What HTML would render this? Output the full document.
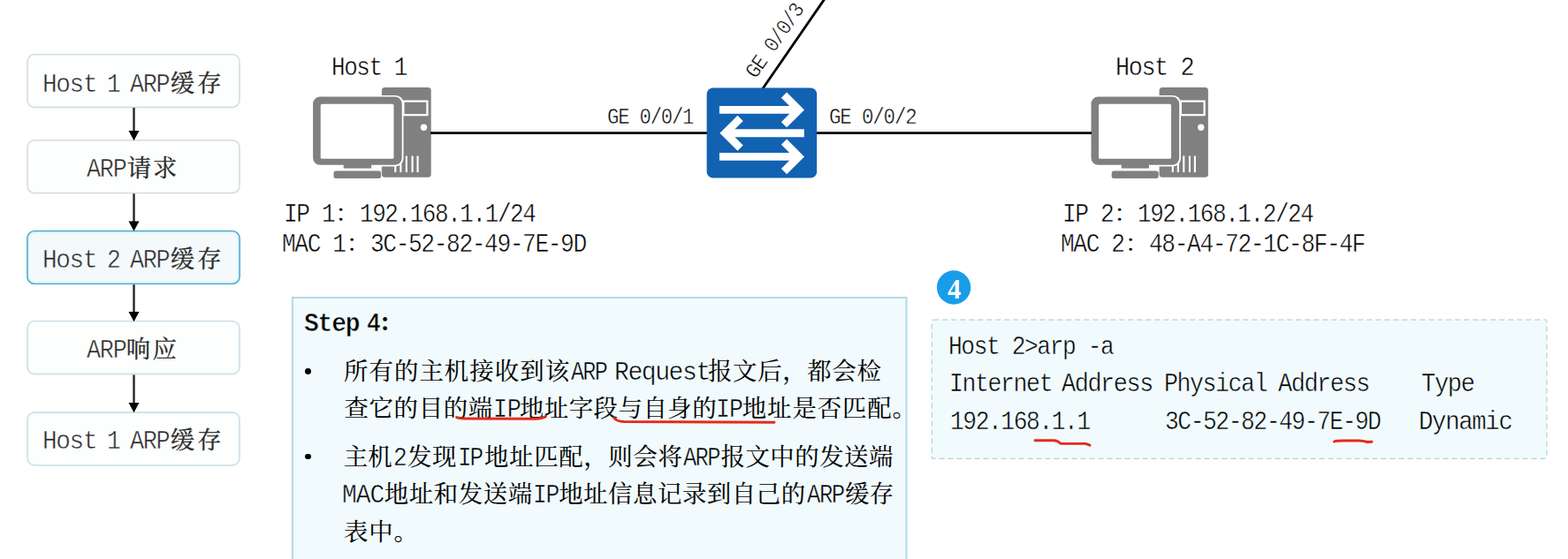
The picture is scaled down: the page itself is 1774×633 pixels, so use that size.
<!DOCTYPE html>
<html lang="zh-CN">
<head>
<meta charset="utf-8">
<title>ARP 工作过程 - Step 4</title>
<style>
html,body{margin:0;padding:0;background:#fff}
body{width:1774px;height:633px;position:relative;overflow:hidden;font-family:"Liberation Mono","Noto Serif CJK SC",monospace;color:#000}
main,section,header{display:block;margin:0;padding:0}
.t{position:absolute;white-space:nowrap;height:40px;line-height:40px;font-size:29.5px;font-weight:normal;margin:0;padding:0}
.t span{line-height:0;white-space:pre}
.l{font-family:"Liberation Mono","Noto Serif CJK SC",monospace;-webkit-text-stroke:0.5px #fff;display:inline-block;transform-origin:0 50%}
.c{font-family:"Liberation Serif","Noto Serif CJK SC",serif;font-size:27.4px;-webkit-text-stroke:0.12px currentColor}
.flow .c{-webkit-text-stroke-width:0.3px}
.b{font-weight:bold;-webkit-text-stroke-width:0.6px}
.c.b{-webkit-text-stroke:0.2px #f1fbfd}
.tint .l{-webkit-text-stroke-color:#f1fbfd}
.fb{position:absolute;left:31px;width:240px;height:59.8px;border-radius:8px;background:#fdfefe}
.fb.on{background:#f4fafc;box-shadow:0 0 2.5px 1px #a5e9f5,inset 0 0 3px 1px #c4f1f8}
.on-t .l{-webkit-text-stroke-color:#f4fafc}
.flow .t{color:#2a2a2a}
.panel{position:absolute;background:#f1fbfd}
.dot{position:absolute;width:6.8px;height:6.8px;border-radius:50%;background:#000}
.n4{width:40px;text-align:center;color:#fff;font-family:"Liberation Serif",serif;font-weight:bold;font-size:30.5px}
svg{position:absolute;left:0;top:0;overflow:hidden}
</style>
</head>
<body>
<main>
<section class="flow" aria-label="ARP 流程">
<div class="fb" style="top:61.7px"></div>
<div class="fb" style="top:158.8px"></div>
<div class="fb on" style="top:261.6px"></div>
<div class="fb" style="top:363.7px"></div>
<div class="fb" style="top:467px"></div>
<svg width="1774" height="633" viewBox="0 0 1774 633" aria-hidden="true">
<rect x="31" y="61.7" width="240" height="59.8" rx="8" fill="none" stroke="#d9e0e3" stroke-width="1.8"/>
<rect x="31" y="158.8" width="240" height="59.8" rx="8" fill="none" stroke="#d9e0e3" stroke-width="1.8"/>
<rect x="31" y="261.6" width="240" height="59.8" rx="8" fill="none" stroke="#4fa6c6" stroke-width="1.4"/>
<rect x="31" y="363.7" width="240" height="59.8" rx="8" fill="none" stroke="#d0e3ea" stroke-width="1.8"/>
<rect x="31" y="467" width="240" height="59.8" rx="8" fill="none" stroke="#d0e3ea" stroke-width="1.8"/>
<path d="M151.5 122V150.2" stroke="#1c1c1c" stroke-width="2.3" fill="none"/>
<path d="M145.5 148H157.5L151.5 159.2Z" fill="#000"/>
<path d="M151.5 219.3V252.7" stroke="#1c1c1c" stroke-width="2.3" fill="none"/>
<path d="M145.5 250.5H157.5L151.5 261.7Z" fill="#000"/>
<path d="M151.5 322.3V355.2" stroke="#1c1c1c" stroke-width="2.3" fill="none"/>
<path d="M145.5 353H157.5L151.5 364.2Z" fill="#000"/>
<path d="M151.5 424.5V458.2" stroke="#1c1c1c" stroke-width="2.3" fill="none"/>
<path d="M145.5 456H157.5L151.5 467.2Z" fill="#000"/>
</svg>
<div class="t" style="left:48px;top:76px"><span class="l" style="letter-spacing:-1.43px;transform:scaleX(0.94)">Host </span><span class="l" style="letter-spacing:-1.6px;margin-left:-8.44px;transform:scaleX(0.89)">1 </span><span class="l" style="letter-spacing:-1.45px;margin-left:-6.11px;transform:scaleX(0.91)">ARP</span><span class="c" style="letter-spacing:3.14px;margin-left:-3.07px">缓存</span></div>
<div class="t" style="left:97.5px;top:172px"><span class="l" style="letter-spacing:-1.39px;transform:scaleX(0.91)">ARP</span><span class="c" style="letter-spacing:1.75px;margin-left:-2.64px">请求</span></div>
<div class="t on-t" style="left:48px;top:275px"><span class="l" style="letter-spacing:-1.43px;transform:scaleX(0.94)">Host </span><span class="l" style="letter-spacing:-1.6px;margin-left:-8.38px;transform:scaleX(0.89)">2 </span><span class="l" style="letter-spacing:-1.45px;margin-left:-6.17px;transform:scaleX(0.91)">ARP</span><span class="c" style="letter-spacing:3.14px;margin-left:-3.07px">缓存</span></div>
<div class="t" style="left:97.5px;top:377px"><span class="l" style="letter-spacing:-1.39px;transform:scaleX(0.91)">ARP</span><span class="c" style="letter-spacing:2.43px;margin-left:-3.76px">响应</span></div>
<div class="t" style="left:48px;top:480px"><span class="l" style="letter-spacing:-1.43px;transform:scaleX(0.94)">Host </span><span class="l" style="letter-spacing:-1.6px;margin-left:-8.44px;transform:scaleX(0.89)">1 </span><span class="l" style="letter-spacing:-1.45px;margin-left:-6.11px;transform:scaleX(0.91)">ARP</span><span class="c" style="letter-spacing:3.14px;margin-left:-3.07px">缓存</span></div>
</section>
<section class="topo" aria-label="网络拓扑">
<svg width="1774" height="633" viewBox="0 0 1774 633" aria-hidden="true">
<g transform="translate(-0.1 0) scale(1.0000 1)"><rect x="432" y="99" width="55.8" height="101.8" rx="3.5" fill="#808080"/><rect x="456.5" y="114.6" width="27" height="15.6" fill="none" stroke="#fff" stroke-width="2.2"/><circle cx="479.6" cy="144.2" r="3.7" fill="#fff"/><rect x="446.3" y="176.5" width="2.1" height="18.6" fill="#fff"/><rect x="452.4" y="176.5" width="2.1" height="18.6" fill="#fff"/><rect x="458.9" y="176.5" width="2.1" height="18.6" fill="#fff"/><rect x="465.6" y="176.5" width="2.1" height="18.6" fill="#fff"/><rect x="471.6" y="176.5" width="2.1" height="18.6" fill="#fff"/><path d="M430 107.9H447.6a9 9 0 0 1 9 9V179.5a9 9 0 0 1 -9 9H430z" fill="#fff"/><rect x="354.2" y="109.6" width="100.6" height="77.2" rx="8" fill="#808080"/><rect x="362.8" y="117.8" width="82.8" height="62" rx="1.6" fill="#fff"/><rect x="388.8" y="186" width="31.4" height="4.6" fill="#808080"/><rect x="377.6" y="193.4" width="53.6" height="8.6" rx="2.5" fill="#808080"/></g>
<g transform="translate(883.48 0) scale(0.9910 1)"><rect x="432" y="99" width="55.8" height="101.8" rx="3.5" fill="#808080"/><rect x="456.5" y="114.6" width="27" height="15.6" fill="none" stroke="#fff" stroke-width="2.2"/><circle cx="479.6" cy="144.2" r="3.7" fill="#fff"/><rect x="446.3" y="176.5" width="2.1" height="18.6" fill="#fff"/><rect x="452.4" y="176.5" width="2.1" height="18.6" fill="#fff"/><rect x="458.9" y="176.5" width="2.1" height="18.6" fill="#fff"/><rect x="465.6" y="176.5" width="2.1" height="18.6" fill="#fff"/><rect x="471.6" y="176.5" width="2.1" height="18.6" fill="#fff"/><path d="M430 107.9H447.6a9 9 0 0 1 9 9V179.5a9 9 0 0 1 -9 9H430z" fill="#fff"/><rect x="354.2" y="109.6" width="100.6" height="77.2" rx="8" fill="#808080"/><rect x="362.8" y="117.8" width="82.8" height="62" rx="1.6" fill="#fff"/><rect x="388.8" y="186" width="31.4" height="4.6" fill="#808080"/><rect x="377.6" y="193.4" width="53.6" height="8.6" rx="2.5" fill="#808080"/></g>
<path d="M487 150.6H801M922 150.6H1235" stroke="#000" stroke-width="2.6" fill="none"/>
<path d="M862.5 101L932.8 -1" stroke="#000" stroke-width="2.8" fill="none"/>
<rect x="799.6" y="99.5" width="124.6" height="102.1" rx="7.2" fill="#1262b2"/>
<path d="M813.9 124.45H903" stroke="#fff" stroke-width="8.8" fill="none"/><path d="M887 107.65L903.8 124.45L887 141.25" stroke="#fff" stroke-width="8.8" fill="none" stroke-linejoin="miter"/>
<path d="M909.8 150.75H821" stroke="#fff" stroke-width="8.8" fill="none"/><path d="M837.6 133.95L820.6 150.75L837.6 167.55" stroke="#fff" stroke-width="8.8" fill="none" stroke-linejoin="miter"/>
<path d="M813.9 177.4H903" stroke="#fff" stroke-width="8.8" fill="none"/><path d="M887 160.6L903.8 177.4L887 194.2" stroke="#fff" stroke-width="8.8" fill="none" stroke-linejoin="miter"/>
</svg>
<div class="t" style="left:374.64px;top:57px"><span class="l" style="letter-spacing:-1.6px;transform:scaleX(0.88)">Host 1</span></div>
<div class="t" style="left:1262.19px;top:57px"><span class="l" style="letter-spacing:-1.55px;transform:scaleX(0.91)">Host 2</span></div>
<div class="t" style="left:687.37px;top:112px"><span class="l" style="font-size:25px;letter-spacing:-1.34px;transform:scaleX(0.89)">GE 0/0/1</span></div>
<div class="t" style="left:938.45px;top:112px"><span class="l" style="font-size:25px;letter-spacing:-1.32px;transform:scaleX(0.9)">GE 0/0/2</span></div>
<div class="t" style="left:855.3px;top:61.7px;transform-origin:0 28px;transform:rotate(-55.2deg)"><span class="l" style="font-size:24.5px;letter-spacing:-1.31px;transform:scaleX(0.9)">GE 0/0/3</span></div>
<div class="t" style="left:320.72px;top:223px"><span class="l" style="letter-spacing:-1.6px;transform:scaleX(0.89)">IP 1</span><span class="c" style="letter-spacing:1.2px;margin-left:-5.9px">：</span><span class="l" style="letter-spacing:-1.6px;margin-left:-1.31px;transform:scaleX(0.88)">192.168.1.1/24</span></div>
<div class="t" style="left:318.95px;top:257px"><span class="l" style="letter-spacing:-1.6px;transform:scaleX(0.89)">MAC 1</span><span class="c" style="letter-spacing:1.2px;margin-left:-7.71px">：</span><span class="l" style="letter-spacing:-1.59px;margin-left:-1.31px;transform:scaleX(0.89)">3C-52-82-49-7E-9D</span></div>
<div class="t" style="left:1201.62px;top:223px"><span class="l" style="letter-spacing:-1.6px;transform:scaleX(0.89)">IP 2</span><span class="c" style="letter-spacing:1.2px;margin-left:-5.9px">：</span><span class="l" style="letter-spacing:-1.6px;margin-left:-1.31px;transform:scaleX(0.88)">192.168.1.2/24</span></div>
<div class="t" style="left:1199.85px;top:257px"><span class="l" style="letter-spacing:-1.6px;transform:scaleX(0.89)">MAC 2</span><span class="c" style="letter-spacing:1.2px;margin-left:-7.71px">：</span><span class="l" style="letter-spacing:-1.58px;margin-left:-1.3px;transform:scaleX(0.89)">48-A4-72-1C-8F-4F</span></div>
</section>
<section class="step tint" aria-label="Step 4">
<div class="panel" style="left:330.9px;top:336.9px;width:694.6px;height:296.1px"></div>
<svg width="1774" height="633" viewBox="0 0 1774 633" aria-hidden="true"><path d="M330.9 633V336.9H1025.5V633" fill="none" stroke="#b4d8e8" stroke-width="2"/></svg>
<h3 class="t" style="left:343.58px;top:347px"><span class="l b" style="letter-spacing:-1.32px;transform:scaleX(0.95)">Step </span><span class="l b" style="letter-spacing:-1.6px;margin-left:-10.72px;transform:scaleX(0.89)">4</span><span class="c b" style="letter-spacing:0.9px;margin-left:-2.6px">：</span></h3>
<div class="dot" style="left:345.2px;top:416.9px"></div>
<p class="t" style="left:389.01px;top:402px"><span class="c" style="letter-spacing:1.07px">所有的主机接收到该</span><span class="l" style="letter-spacing:-2px;margin-left:0.74px;transform:scaleX(0.85)">ARP </span><span class="l" style="letter-spacing:-1.49px;margin-left:-13.52px;transform:scaleX(0.95)">Request</span><span class="c" style="letter-spacing:0.69px;margin-left:-7.68px">报文后，都会检</span></p>
<p class="t" style="left:389.38px;top:444px"><span class="c" style="letter-spacing:0.7px">查它的目的端</span><span class="l" style="letter-spacing:-0.46px;margin-left:-0.12px;transform:scaleX(0.91)">IP</span><span class="c" style="letter-spacing:0.52px;margin-left:-4.43px">地址字段与自身的</span><span class="l" style="letter-spacing:-1.1px;margin-left:-1.34px;transform:scaleX(0.9)">IP</span><span class="c" style="letter-spacing:0.91px;margin-left:-3.29px">地址是否匹配。</span></p>
<div class="dot" style="left:345.2px;top:513.5px"></div>
<p class="t" style="left:388.85px;top:499px"><span class="c" style="letter-spacing:-0.05px">主机</span><span class="l" style="letter-spacing:-1.6px;margin-left:1.02px;transform:scaleX(0.89)">2</span><span class="c" style="letter-spacing:0.58px;margin-left:0.42px">发现</span><span class="l" style="letter-spacing:-2.23px;margin-left:1.21px;transform:scaleX(0.88)">IP</span><span class="c" style="letter-spacing:0.67px;margin-left:-1.11px">地址匹配，则会将</span><span class="l" style="letter-spacing:-1.86px;margin-left:0.54px;transform:scaleX(0.86)">ARP</span><span class="c" style="letter-spacing:0.51px;margin-left:-5.09px">报文中的发送端</span></p>
<p class="t" style="left:387.13px;top:541px"><span class="l" style="letter-spacing:-1.15px;transform:scaleX(0.95)">MAC</span><span class="c" style="letter-spacing:0.61px;margin-left:-1.98px">地址和发送端</span><span class="l" style="letter-spacing:-1.43px;margin-left:-0.08px;transform:scaleX(0.89)">IP</span><span class="c" style="letter-spacing:0.56px;margin-left:-3.16px">地址信息记录到自己的</span><span class="l" style="letter-spacing:-1.73px;margin-left:1.24px;transform:scaleX(0.87)">ARP</span><span class="c" style="letter-spacing:0.34px;margin-left:-4.73px">缓存</span></p>
<p class="t" style="left:388.99px;top:584px"><span class="c" style="letter-spacing:0.9px">表中。</span></p>
<svg width="1774" height="633" viewBox="0 0 1774 633" aria-hidden="true"><g fill="none" stroke="#e42a1c" stroke-width="2.9" stroke-linecap="round" stroke-linejoin="round"><path d="M516.5 472.5Q519 474 526 474L606 474.2Q614 474 617.5 471.5"/><path d="M694.5 473Q697 477 706 477.5L876 478.2"/></g></svg>
</section>
<section class="term tint" aria-label="arp -a">
<div class="panel" style="left:1054.2px;top:362.2px;width:695.8px;height:157.2px;border-radius:2px"></div>
<svg width="1774" height="633" viewBox="0 0 1774 633" aria-hidden="true"><rect x="1054.2" y="362.2" width="695.8" height="157.2" rx="2" fill="none" stroke="#b3d3d8" stroke-width="1.2" stroke-dasharray="6.2 3.8"/><circle cx="1079.1" cy="325.5" r="19.2" fill="#1a9de9"/></svg>
<div class="t n4" style="left:1059.6px;top:308px">4</div>
<div class="t" style="left:1072.63px;top:373px"><span class="l" style="letter-spacing:-1.6px;transform:scaleX(0.89)">Host 2&gt;arp -a</span></div>
<div class="t" style="left:1074.38px;top:415px"><span class="l" style="letter-spacing:-1.57px;transform:scaleX(0.9)">Internet </span><span class="l" style="letter-spacing:-1.55px;margin-left:-18.34px;transform:scaleX(0.91)">Address </span><span class="l" style="letter-spacing:-1.57px;margin-left:-13.83px;transform:scaleX(0.9)">Physical </span><span class="l" style="letter-spacing:-1.55px;margin-left:-16.27px;transform:scaleX(0.91)">Address    </span><span class="l" style="letter-spacing:-1.48px;margin-left:-15.56px;transform:scaleX(0.92)">Type</span></div>
<div class="t" style="left:1075.11px;top:458px"><span class="l" style="letter-spacing:-1.59px;transform:scaleX(0.89)">192.168.1.1      </span><span class="l" style="letter-spacing:-1.6px;margin-left:-30.98px;transform:scaleX(0.89)">3C-52-82-49-7E-9D   </span><span class="l" style="letter-spacing:-1.5px;margin-left:-34.87px;transform:scaleX(0.93)">Dynamic</span></div>
<svg width="1774" height="633" viewBox="0 0 1774 633" aria-hidden="true"><g fill="none" stroke="#e42a1c" stroke-width="2.9" stroke-linecap="round" stroke-linejoin="round"><path d="M1171 498.8H1192Q1197 499 1200 502.4H1228L1233 504.2"/><path d="M1509.5 500Q1512 499 1520 499H1538Q1544 499.5 1547 500.5L1552 500.3"/></g></svg>
</section>
</main>
</body>
</html>
